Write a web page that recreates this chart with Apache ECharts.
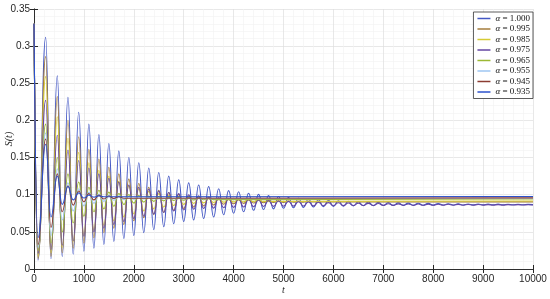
<!DOCTYPE html>
<html>
<head>
<meta charset="utf-8">
<title>S(t)</title>
<script src="https://cdn.jsdelivr.net/npm/echarts@6/dist/echarts.min.js"></script>
<style>
    html, body { margin: 0; padding: 0; background: #fff; }
    #chart { width: 550px; height: 299px; }
</style>
</head>
<body>
<div id="chart"></div>
<script>
// alpha values shown in the legend
var alphas = ['1.000', '0.995', '0.985', '0.975', '0.965', '0.955', '0.945', '0.935'];
var colors = ['#4458c4', '#a47c3c', '#d6cb34', '#6446a2', '#9cb834', '#9ec6f2', '#8c3c32', '#2c52cc'];

// times of the peaks / troughs
var extT = [0, 80, 234, 340, 467, 565, 681, 785, 896, 1000,
    1100, 1200, 1300, 1400, 1500, 1600, 1700, 1800, 1900, 2000,
    2100, 2200, 2300, 2400, 2500, 2600, 2700, 2800, 2900, 3000,
    3100, 3200, 3300, 3400, 3500, 3600, 3700, 3800, 3900, 4000,
    4100, 4200, 4300, 4400, 4500, 4600, 4700, 4800, 4900, 5000,
    5100, 5200, 5300, 5400, 5500, 5600, 5700, 5800, 5900, 6000,
    6100, 6200, 6300, 6400, 6500, 6600, 6700, 6800, 6900, 7000,
    7100, 7200, 7300, 7400, 7500, 7600, 7700, 7800, 7900, 8000,
    8100, 8200, 8300, 8400, 8500, 8600, 8700, 8800, 8900, 9000,
    9100, 9200, 9300, 9400, 9500, 9600, 9700, 9800, 9900, 10000];

// S(t) at those times, one list per alpha
var s1000 = [0.33, 0.012, 0.312, 0.014, 0.260, 0.017, 0.231, 0.020, 0.211, 0.024,
    0.195, 0.028, 0.181, 0.033, 0.169, 0.037, 0.159, 0.041, 0.150, 0.045,
    0.143, 0.049, 0.136, 0.053, 0.130, 0.057, 0.125, 0.061, 0.120, 0.064,
    0.116, 0.066, 0.113, 0.068, 0.111, 0.070, 0.108, 0.073, 0.1055, 0.075,
    0.104, 0.077, 0.102, 0.079, 0.1005, 0.080, 0.099, 0.081, 0.0975, 0.0818,
    0.0963, 0.0825, 0.0952, 0.083, 0.0942, 0.0835, 0.0933, 0.0839, 0.0925, 0.0843,
    0.0918, 0.0846, 0.0912, 0.0849, 0.0906, 0.0851, 0.0901, 0.0853, 0.0897, 0.0855,
    0.0893, 0.0856, 0.089, 0.0857, 0.0887, 0.0858, 0.0885, 0.0859, 0.0883, 0.086,
    0.0881, 0.0861, 0.0879, 0.0862, 0.0877, 0.0862, 0.0876, 0.0863, 0.0875, 0.0863,
    0.0874, 0.0864, 0.0873, 0.0864, 0.0872, 0.0865, 0.0871, 0.0865, 0.087, 0.0866];
var s0995 = [0.33, 0.014, 0.286, 0.017, 0.232, 0.022, 0.200, 0.028, 0.178, 0.035,
    0.161, 0.042, 0.148, 0.049, 0.137, 0.055, 0.128, 0.060, 0.121, 0.065,
    0.115, 0.069, 0.110, 0.073, 0.106, 0.076, 0.103, 0.079, 0.1005, 0.0815,
    0.0985, 0.0835, 0.097, 0.085, 0.0958, 0.0862, 0.0948, 0.0871, 0.094, 0.0878,
    0.0934, 0.0884, 0.0929, 0.0888, 0.0925, 0.0892, 0.0921, 0.0895, 0.0918, 0.0897,
    0.0915, 0.0899, 0.0913, 0.09, 0.0911, 0.0901];
var s0985 = [0.33, 0.017, 0.259, 0.022, 0.205, 0.029, 0.176, 0.037, 0.157, 0.045,
    0.143, 0.052, 0.133, 0.059, 0.125, 0.065, 0.118, 0.070, 0.112, 0.074,
    0.108, 0.078, 0.1045, 0.081, 0.1015, 0.0835, 0.0995, 0.0855, 0.0978, 0.087,
    0.0965, 0.0882, 0.0955, 0.089, 0.0948, 0.0896, 0.0942, 0.09, 0.0937, 0.0903,
    0.0933, 0.0906, 0.093, 0.0908, 0.0927, 0.091];
var s0975 = [0.33, 0.021, 0.227, 0.026, 0.180, 0.032, 0.160, 0.038, 0.146, 0.044,
    0.136, 0.050, 0.128, 0.055, 0.122, 0.060, 0.117, 0.064, 0.113, 0.068,
    0.110, 0.071, 0.1075, 0.074, 0.105, 0.076, 0.103, 0.078, 0.1015, 0.0795,
    0.100, 0.0805, 0.0985, 0.0815, 0.097, 0.082, 0.096, 0.0825, 0.095, 0.083,
    0.0942, 0.0835, 0.0935, 0.0838, 0.0928, 0.0841, 0.0922, 0.0843, 0.0916, 0.0845,
    0.0911, 0.0847, 0.0906, 0.0849, 0.0902, 0.085, 0.0898, 0.0851, 0.0894, 0.0852,
    0.0891, 0.0853, 0.0888, 0.0854, 0.0885, 0.0855, 0.0883, 0.0855, 0.0881, 0.0856,
    0.0879, 0.0856, 0.0877, 0.0857, 0.0876, 0.0857, 0.0874, 0.0858, 0.0873, 0.0858,
    0.0872, 0.0858, 0.0871, 0.0859, 0.087, 0.0859, 0.0869, 0.0859, 0.0868, 0.086,
    0.0867, 0.086, 0.0867, 0.086, 0.0866, 0.0861, 0.0866, 0.0861, 0.0865, 0.0862];
var s0965 = [0.33, 0.025, 0.195, 0.035, 0.150, 0.050, 0.128, 0.062, 0.117, 0.071,
    0.110, 0.077, 0.106, 0.081, 0.1035, 0.0845, 0.1015, 0.087, 0.100, 0.0888,
    0.099, 0.0901, 0.0981, 0.091, 0.0974, 0.0917, 0.0968, 0.0922, 0.0963, 0.0926,
    0.0959, 0.093, 0.0955, 0.0932, 0.0952, 0.0934];
var s0955 = [0.33, 0.029, 0.183, 0.045, 0.135, 0.066, 0.116, 0.078, 0.108, 0.085,
    0.1035, 0.0885, 0.101, 0.091, 0.0995, 0.0925, 0.0985, 0.0933, 0.0978, 0.0938,
    0.0972, 0.0942, 0.0966, 0.0945];
var s0945 = [0.33, 0.033, 0.175, 0.056, 0.128, 0.077, 0.112, 0.086, 0.105, 0.0905,
    0.1015, 0.093, 0.0995, 0.0943, 0.0982, 0.095, 0.0973, 0.0953];
var s0935 = [0.33, 0.042, 0.168, 0.070, 0.125, 0.087, 0.111, 0.093, 0.1025, 0.0955,
    0.0995, 0.0968, 0.0985, 0.0972];
// level each curve settles at by t = 10000
var sEnd = [0.0866, 0.0903, 0.0916, 0.0862, 0.0942, 0.0952, 0.0958, 0.0976];

var curves = [s1000, s0995, s0985, s0975, s0965, s0955, s0945, s0935];

var myChart = echarts.init(document.getElementById('chart'));

// build the line data from times + values
let toData = (vals, last) => {
    let d = vals.map((v, i) => [extT[i], v]);
    if (d[d.length - 1][0] < 10000) d.push([10000, last]);
    return d;
};

var seriesList = [];
for (let i = 0; i < curves.length; i++) {
    seriesList.push({
        name: 'α = ' + alphas[i],
        type: 'line',
        data: toData(curves[i], sEnd[i]),
        showSymbol: false,
        symbol: 'none',
        smooth: 0.5,
        smoothMonotone: 'x',
        lineStyle: { width: 1.1, color: colors[i] },
        itemStyle: { color: colors[i] },
        animation: false
    });
}

var axisCol = '#262626';
var tickFont = { fontFamily: 'Liberation Sans, Arial, sans-serif', fontSize: 10, color: axisCol };

var option = {
    animation: false,
    backgroundColor: '#fff',
    grid: { left: 34, right: 17, top: 9, bottom: 30, containLabel: false, outerBoundsMode: 'none' },
    legend: {
        orient: 'vertical',
        right: 17,
        top: 12,
        data: alphas.map(a => ({ name: 'α = ' + a, icon: 'rect' })),
        itemWidth: 13,
        itemHeight: 1.5,
        itemGap: 1.5,
        padding: [2, 3, 2, 4],
        backgroundColor: '#fff',
        borderColor: '#333',
        borderWidth: 0.8,
        formatter: name => '{i|α} = ' + name.slice(4),
        textStyle: {
            fontFamily: 'Liberation Serif, DejaVu Serif, serif',
            fontSize: 9,
            lineHeight: 9,
            color: '#111',
            rich: {
                i: { fontStyle: 'italic', fontFamily: 'Liberation Serif, serif', fontSize: 9 }
            }
        }
    },
    xAxis: [{
        type: 'value',
        min: 0, max: 10000, interval: 1000,
        name: 't',
        nameLocation: 'middle',
        nameGap: 16,
        nameMoveOverlap: false,
        nameTextStyle: { fontFamily: 'Liberation Serif, serif', fontStyle: 'italic', fontSize: 10, color: axisCol },
        axisLine: { show: true, lineStyle: { color: axisCol, width: 0.8 } },
        axisTick: { show: true, inside: true, length: 4, lineStyle: { color: axisCol } },
        axisLabel: Object.assign({ margin: 5, formatter: v => String(v) }, tickFont),
        splitLine: { show: true, lineStyle: { color: '#dedede', width: 0.7 } },
        minorTick: { show: false, splitNumber: 5 },
        minorSplitLine: { show: true, lineStyle: { color: '#f1f1f1', width: 0.6 } }
    }, {
        type: 'value',
        position: 'top',
        min: 0, max: 10000, interval: 1000,
        axisLine: { show: true, lineStyle: { color: axisCol, width: 0.8 } },
        axisTick: { show: true, inside: true, length: 4, lineStyle: { color: axisCol } },
        axisLabel: { show: false },
        splitLine: { show: false }
    }],
    yAxis: [{
        type: 'value',
        min: 0, max: 0.35, interval: 0.05,
        name: 'S(t)',
        nameLocation: 'middle',
        nameGap: 20,
        nameMoveOverlap: false,
        nameRotate: 90,
        nameTextStyle: { fontFamily: 'Liberation Serif, serif', fontStyle: 'italic', fontSize: 10, color: axisCol },
        axisLine: { show: true, lineStyle: { color: axisCol, width: 0.8 } },
        axisTick: { show: true, inside: true, length: 4, lineStyle: { color: axisCol } },
        axisLabel: Object.assign({ margin: 4 }, tickFont),
        splitLine: { show: true, lineStyle: { color: '#dedede', width: 0.7 } },
        minorTick: { show: false, splitNumber: 5 },
        minorSplitLine: { show: true, lineStyle: { color: '#f1f1f1', width: 0.6 } }
    }, {
        type: 'value',
        position: 'right',
        min: 0, max: 0.35, interval: 0.05,
        axisLine: { show: true, lineStyle: { color: axisCol, width: 0.8 } },
        axisTick: { show: true, inside: true, length: 4, lineStyle: { color: axisCol } },
        axisLabel: { show: false },
        splitLine: { show: false }
    }],
    series: seriesList
};

myChart.setOption(option);
</script>
</body>
</html>
